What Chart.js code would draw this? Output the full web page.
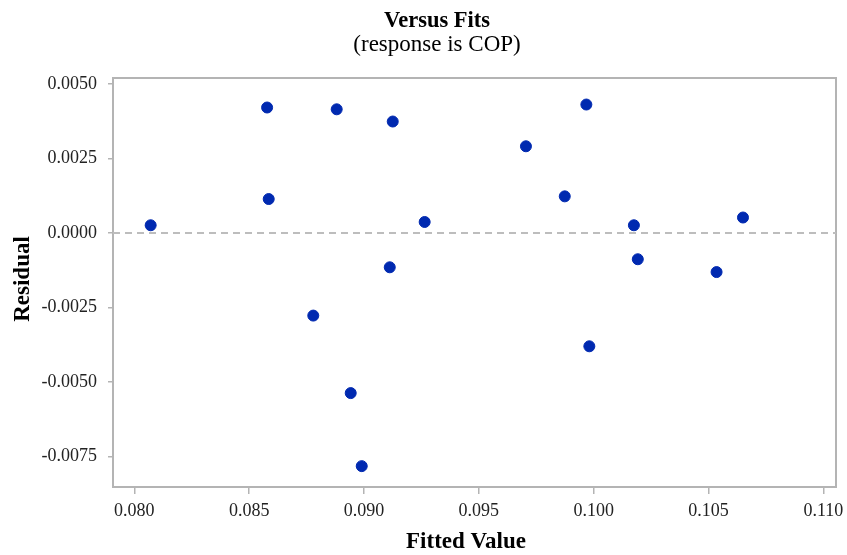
<!DOCTYPE html>
<html>
<head>
<meta charset="utf-8">
<script src="https://cdn.jsdelivr.net/npm/chart.js@4.4.1/dist/chart.umd.min.js"></script>
<style>
html, body { margin: 0; padding: 0; background: #fff; }
</style>
</head>
<body>
<canvas id="myChart" width="847" height="555"></canvas>
<script>
// residuals vs fitted values
const fitted = [0.08071, 0.08578, 0.08585, 0.08881, 0.09125, 0.09264, 0.09112, 0.08779, 0.08942,
    0.0899, 0.09968, 0.09705, 0.09874, 0.10175, 0.1065, 0.10192, 0.10535, 0.09981];
const residual = [0.00026, 0.00421, 0.00114, 0.00415, 0.00374, 0.00037, -0.00115, -0.00277, -0.00537,
    -0.00782, 0.00431, 0.00291, 0.00123, 0.00026, 0.00052, -0.00088, -0.00131, -0.0038];

const xTicks = [0.080, 0.085, 0.090, 0.095, 0.100, 0.105, 0.110];
const yTicks = [0.0050, 0.0025, 0.0000, -0.0025, -0.0050, -0.0075];
const xRange = [0.07907, 0.11055];
const yRange = [-0.00852, 0.0052];
const refLine = 0;

const axisGray = '#b4b4b4';
const serif = '"Liberation Serif", "Times New Roman", serif';

const points = fitted.map((f, i) => ({ x: f, y: residual[i] }));
const zeroLine = [{ x: xRange[0], y: refLine }, { x: xRange[1], y: refLine }];

// frame + text labels
const decor = {
    id: 'decor',
    beforeDatasetsDraw(chart) {
        const { ctx, chartArea: a } = chart;
        ctx.save();
        ctx.strokeStyle = axisGray;
        ctx.lineWidth = 2;
        ctx.strokeRect(a.left, a.top, a.right - a.left, a.bottom - a.top);
        ctx.restore();
    },
    afterDraw(chart) {
        const ctx = chart.ctx;
        ctx.save();
        ctx.fillStyle = '#000';
        ctx.textAlign = 'center';
        ctx.textBaseline = 'alphabetic';
        ctx.font = 'bold 22.5px ' + serif;
        ctx.fillText('Versus Fits', 437, 27);
        ctx.font = '23px ' + serif;
        ctx.fillText('(response is COP)', 437, 51);
        ctx.font = 'bold 23px ' + serif;
        ctx.fillText('Fitted Value', 466, 548);
        ctx.translate(29, 279);
        ctx.rotate(-Math.PI / 2);
        ctx.fillText('Residual', 0, 0);
        ctx.restore();
    }
};

const ctx = document.getElementById('myChart').getContext('2d');

const config = {
    type: 'scatter',
    data: {
        datasets: [{
            label: 'Residual',
            data: points,
            backgroundColor: '#0029b0',
            borderColor: '#0029b0',
            pointRadius: 5.5,
            order: 1
        }, {
            type: 'line',
            label: 'zero',
            data: zeroLine,
            borderColor: '#bdbdbd',
            borderWidth: 2,
            borderDash: [7, 5],
            pointRadius: 0,
            fill: false,
            order: 2
        }]
    },
    options: {
        responsive: false,
        animation: false,
        events: [],
        layout: { padding: { top: 78, right: 11, left: 0, bottom: 0 } },
        plugins: {
            legend: { display: false },
            tooltip: { enabled: false },
            title: { display: false }
        },
        scales: {
            x: {
                type: 'linear',
                min: xRange[0],
                max: xRange[1],
                afterBuildTicks: (s) => { s.ticks = xTicks.map(v => ({ value: v })); },
                afterFit: (s) => { s.height = 68; s.paddingLeft = 0; s.paddingRight = 0; },
                grid: { drawOnChartArea: false, drawTicks: true, tickLength: 7, color: axisGray, lineWidth: 1.5 },
                border: { color: axisGray, width: 2 },
                ticks: {
                    color: '#222',
                    padding: 6,
                    maxRotation: 0,
                    font: { family: serif, size: 18 },
                    callback: (v) => Number(v).toFixed(3)
                }
            },
            y: {
                type: 'linear',
                min: yRange[0],
                max: yRange[1],
                afterBuildTicks: (s) => { s.ticks = yTicks.map(v => ({ value: v })); },
                afterFit: (s) => { s.width = 113; s.paddingTop = 0; s.paddingBottom = 0; },
                grid: { drawOnChartArea: false, drawTicks: true, tickLength: 5, color: axisGray, lineWidth: 1.5 },
                border: { color: axisGray, width: 2 },
                ticks: {
                    color: '#222',
                    padding: 11,
                    font: { family: serif, size: 18 },
                    callback: (v) => Number(v).toFixed(4)
                }
            }
        }
    },
    plugins: [decor]
};

var myChart = new Chart(ctx, config);
</script>
</body>
</html>
